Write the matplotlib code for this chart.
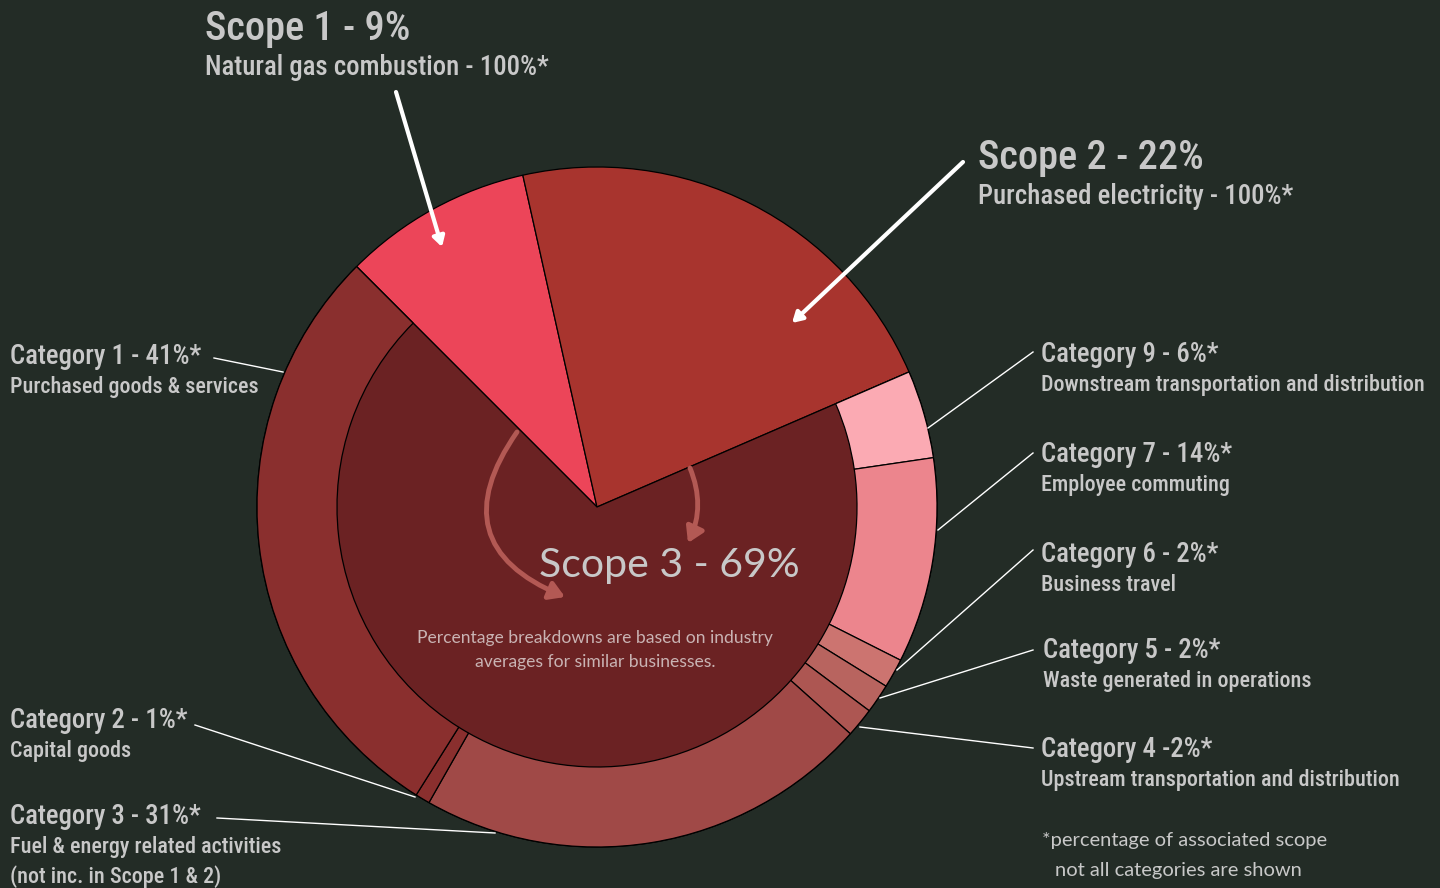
import matplotlib
matplotlib.use('Agg')
import matplotlib.pyplot as plt
from matplotlib import font_manager as fm
from matplotlib.patches import FancyArrowPatch

# scope shares (% of total footprint)
scope_labels = ['Scope 1', 'Scope 2', 'Scope 3']
scope_vals = [9, 22, 69]
scope_colors = ['#ec4559', '#a8342e', '#6b2223']

# scope 3 categories, clockwise from the end of scope 2 (% of scope 3)
cat_names = ['Category 9', 'Category 7', 'Category 6', 'Category 5',
             'Category 4', 'Category 3', 'Category 2', 'Category 1']
cat_vals = [6, 14, 2, 2, 2, 31, 1, 41]
cat_colors = ['#fbaab3', '#ec858d', '#cc7470', '#b8645f',
              '#ad5652', '#a04947', '#8a2f2e', '#8a2f2e']

BG = '#232c26'
TXT = '#c8c8c8'
W, H = 1440, 888
CX, CY = 597, H - 507
R_OUT, R_IN = 340, 260


def pick_condensed():
    # narrowest sans we can find on this box
    names = {f.name for f in fm.fontManager.ttflist}
    for fam in ['Liberation Sans Narrow', 'Roboto Condensed', 'Open Sans Condensed', 'Noto Sans Display']:
        if fam in names:
            return fam, 'normal'
    try:
        f = fm.findfont(fm.FontProperties(family='DejaVu Sans', stretch='condensed'), fallback_to_default=False)
        if 'Condensed' in f:
            return 'DejaVu Sans', 'condensed'
    except Exception:
        pass
    return ('Roboto' if 'Roboto' in names else 'DejaVu Sans'), 'normal'


COND, STRETCH = pick_condensed()
WEIGHT = 'medium'
SOFT = ['Lato', 'Open Sans', 'DejaVu Sans']

fig = plt.figure(figsize=(14.4, 8.88), dpi=100, facecolor=BG)
ax = fig.add_axes([0, 0, 1, 1])
ax.set_facecolor(BG)
renderer = fig.canvas.get_renderer()


def fit_size(sample, target_px, cap_pt):
    # size the condensed font so a sample string spans the width seen in the chart
    t = ax.text(0, 0, sample, fontsize=20, family=COND, stretch=STRETCH, weight=WEIGHT)
    w = t.get_window_extent(renderer).width
    t.remove()
    return min(cap_pt, 20 * target_px / w)


# full pie: scope 1, scope 2 and the dark scope 3 core
ax.pie(scope_vals, radius=R_OUT, center=(CX, CY), startangle=135,
       counterclock=False, colors=scope_colors,
       wedgeprops=dict(edgecolor='black', linewidth=0.9))

# ring of scope 3 categories, placed inside the scope 3 span
s3_total = sum(cat_vals)
ring_vals = [scope_vals[0] + scope_vals[1]] + [v * scope_vals[2] / s3_total for v in cat_vals]
wedges, _ = ax.pie(ring_vals, radius=R_OUT, center=(CX, CY), startangle=135,
                   counterclock=False, colors=['none'] + cat_colors,
                   wedgeprops=dict(width=R_OUT - R_IN, edgecolor='black', linewidth=0.9))
wedges[0].set_visible(False)

ax.set_xlim(0, W)
ax.set_ylim(0, H)
ax.set_aspect('equal')
ax.axis('off')


def px(x, y):
    return x, H - y


head_fs = fit_size('Scope 1 - 9%', 206, 30)
headsub_fs = fit_size('Natural gas combustion - 100%*', 344, 20)
title_fs = fit_size('Category 1 - 41%*', 192, 20.5)
sub_fs = fit_size('Downstream transportation and distribution', 383, 16.5)


def ctext(x, y, s, fs):
    ax.text(*px(x, y), s, color=TXT, fontsize=fs, family=COND, stretch=STRETCH,
            weight=WEIGHT, va='center')


# headline labels for scope 1 / 2
ctext(205, 29, 'Scope 1 - 9%', head_fs)
ctext(205, 68, 'Natural gas combustion - 100%*', headsub_fs)
ctext(978, 158, 'Scope 2 - 22%', head_fs)
ctext(978, 196, 'Purchased electricity - 100%*', headsub_fs)

# category labels: (title, subtitle lines, x, y title, leader start, leader end)
labels = [
    ('Category 1 - 41%*', ['Purchased goods & services'], 10, 356, (214, 358), (283, 372)),
    ('Category 2 - 1%*', ['Capital goods'], 10, 720, (195, 725), (415, 797)),
    ('Category 3 - 31%*', ['Fuel & energy related activities', '(not inc. in Scope 1 & 2)'], 10, 816, (217, 818), (495, 833)),
    ('Category 9 - 6%*', ['Downstream transportation and distribution'], 1041, 354, (1033, 352), (928, 428)),
    ('Category 7 - 14%*', ['Employee commuting'], 1041, 454, (1033, 453), (938, 530)),
    ('Category 6 - 2%*', ['Business travel'], 1041, 554, (1033, 550), (897, 670)),
    ('Category 5 - 2%*', ['Waste generated in operations'], 1043, 650, (1033, 650), (880, 698)),
    ('Category 4 -2%*', ['Upstream transportation and distribution'], 1041, 749, (1033, 748), (860, 727)),
]
for title, subs, x, y, p0, p1 in labels:
    ctext(x, y, title, title_fs)
    for i, s in enumerate(subs):
        ctext(x, y + 31 + 30 * i, s, sub_fs)
    ax.plot([p0[0], p1[0]], [H - p0[1], H - p1[1]], color='white', lw=1.0)

# white pointer arrows
for p0, p1 in [((396, 92), (442, 247)), ((963, 162), (792, 323))]:
    ax.add_patch(FancyArrowPatch(px(*p0), px(*p1), arrowstyle='-|>,head_length=6,head_width=3.5',
                                 color='white', lw=3, shrinkA=0, shrinkB=0))

# curved arrows inside scope 3
arc_col = '#b35954'
ax.add_patch(FancyArrowPatch(px(517, 432), px(565, 597), connectionstyle='arc3,rad=0.62',
                             arrowstyle='-|>,head_length=9,head_width=5.5', color=arc_col,
                             lw=3.5, shrinkA=0, shrinkB=0))
ax.add_patch(FancyArrowPatch(px(690, 468), px(688, 543), connectionstyle='arc3,rad=-0.22',
                             arrowstyle='-|>,head_length=9,head_width=5.5', color=arc_col,
                             lw=3.5, shrinkA=0, shrinkB=0))

# centre text
ax.text(*px(669, 566), 'Scope 3 - 69%', color=TXT, fontsize=29.5, family=SOFT, ha='center', va='center')
ax.text(*px(595, 650), 'Percentage breakdowns are based on industry\naverages for similar businesses.',
        color='#c9b3b3', fontsize=12.6, family=SOFT, ha='center', va='center', linespacing=1.65)

# footnote
ax.text(*px(1042, 840), '*percentage of associated scope', color=TXT, fontsize=14.5, family=SOFT, va='center')
ax.text(*px(1055, 870), 'not all categories are shown', color=TXT, fontsize=14.5, family=SOFT, va='center')

fig.savefig('out.png', dpi=100, facecolor=BG)
